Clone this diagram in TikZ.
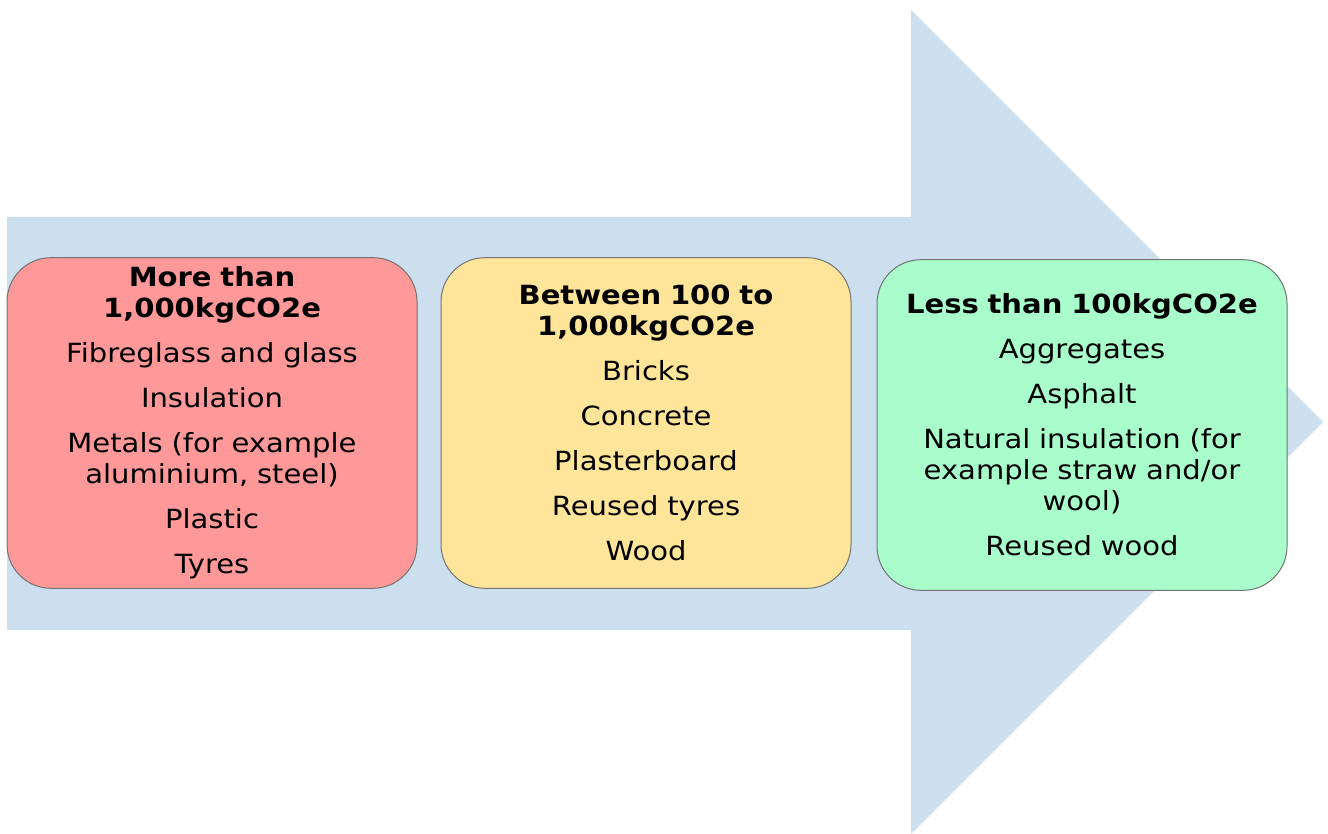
\documentclass[tikz,border=0pt]{standalone}
\usepackage{fontspec}
\setmainfont{DejaVu Sans}[FakeStretch=1.1]
\usetikzlibrary{positioning}
\definecolor{arrowblue}{HTML}{CCDFEE}
\definecolor{redbox}{HTML}{FF9898}
\definecolor{yellowbox}{HTML}{FFE59A}
\definecolor{greenbox}{HTML}{A9FDCB}
\newcommand{\itemgap}{\\[10.5pt]}
\tikzset{
	box/.style={draw=black!55, line width=0.75pt, rounded corners=33pt,
		minimum width=307.5pt, minimum height=248pt, text width=285pt,
		align=center, inner xsep=0pt,
		font=\fontsize{19.8pt}{23.25pt}\selectfont}
}

\begin{document}
\begin{tikzpicture}[x=0.75pt, y=-0.75pt]
			%%%%% START %%%%%
			
			\useasboundingbox (0, 0) rectangle (1328, 834);
			
			% big arrow behind the boxes
			\fill[arrowblue] (7, 217) -- (911, 217) -- (911, 10) -- (1323, 422)
				-- (911, 834) -- (911, 630) -- (7, 630) -- cycle;
			
			\node[box, fill=redbox] (high) at (212, 423)
				{{\bfseries More than\\1,000kgCO2e}\itemgap
				Fibreglass and glass\itemgap
				Insulation\itemgap
				Metals (for example\\aluminium, steel)\itemgap
				Plastic\itemgap
				Tyres};
			
			\node[box, fill=yellowbox, right=17.25pt of high] (mid)
				{{\bfseries Between 100 to\\1,000kgCO2e}\itemgap
				Bricks\itemgap
				Concrete\itemgap
				Plasterboard\itemgap
				Reused tyres\itemgap
				Wood};
			
			\node[box, fill=greenbox, right=18.75pt of mid, yshift=-1.5pt] (low)
				{{\bfseries Less than 100kgCO2e}\itemgap
				Aggregates\itemgap
				Asphalt\itemgap
				Natural insulation (for\\example straw and/or\\wool)\itemgap
				Reused wood};
			
			%%%%% END %%%%%
\end{tikzpicture}
\end{document}
